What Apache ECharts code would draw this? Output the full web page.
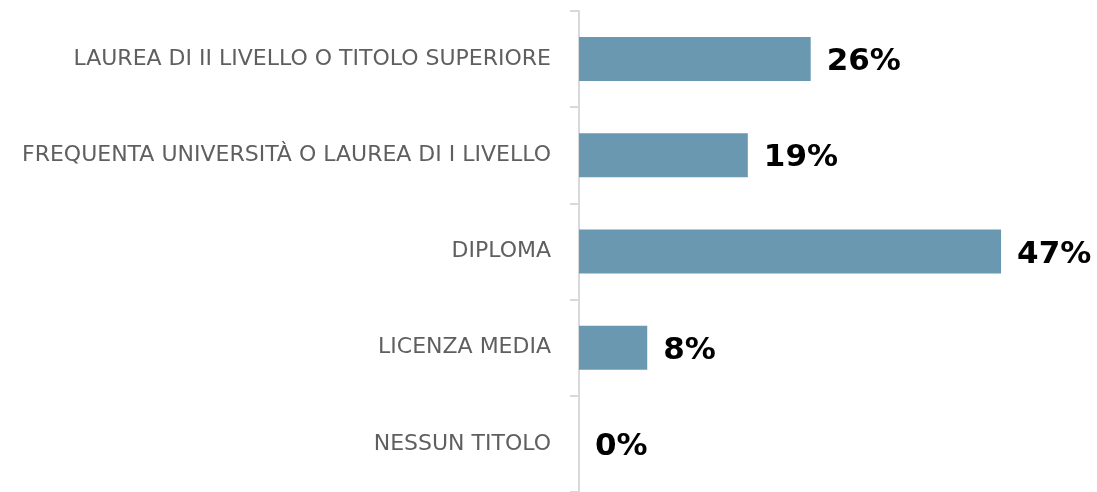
<!DOCTYPE html>
<html>
<head>
<meta charset="UTF-8">
<title>Titolo di studio</title>
<script src="https://cdn.jsdelivr.net/npm/echarts@6/dist/echarts.min.js"></script>
<style>
	html, body { margin: 0; padding: 0; background: #fff; }
	#main { width: 1097px; height: 492px; }
</style>
</head>
<body>
	<div id="main"></div>
	<script>
		// categorie dall'alto verso il basso
		var titoli = ['LAUREA DI II LIVELLO O TITOLO SUPERIORE', 'FREQUENTA UNIVERSITÀ O LAUREA DI I LIVELLO', 'DIPLOMA', 'LICENZA MEDIA', 'NESSUN TITOLO'];
		// valori stimati dalla lunghezza delle barre
		var valori = [25.8, 18.8, 47.0, 7.6, 0];
		// etichette come stampate nel grafico
		var etichette = ['26%', '19%', '47%', '8%', '0%'];

		var myChart = echarts.init(document.getElementById('main'));

		var option = {
			animation: false,
			grid: {
				left: 579,
				top: 11,
				height: 485,
				width: 449
			},
			xAxis: {
				type: 'value',
				min: 0,
				max: 50,
				show: false
			},
			yAxis: {
				type: 'category',
				inverse: true,
				data: titoli,
				axisLine: { show: true, lineStyle: { color: '#d9d9d9', width: 2 } },
				axisTick: { show: true, length: 9, lineStyle: { color: '#d9d9d9', width: 2 } },
				axisLabel: {
					margin: 28,
					lineHeight: 32,
					verticalAlign: 'middle',
					padding: [6, 0, 0, 0],
					color: '#5f5f5f',
					fontFamily: 'DejaVu Sans',
					fontWeight: 'normal',
					fontSize: 22
				}
			},
			series: [{
				type: 'bar',
				data: valori,
				barWidth: 44,
				itemStyle: { color: '#6a98b1' },
				label: {
					show: true,
					position: 'right',
					distance: 16,
					offset: [0, 3],
					color: '#000',
					fontFamily: 'DejaVu Sans',
					fontWeight: 'bold',
					fontSize: 31,
					formatter: function (p) { return etichette[p.dataIndex]; }
				}
			}]
		};

		myChart.setOption(option);
	</script>
</body>
</html>
